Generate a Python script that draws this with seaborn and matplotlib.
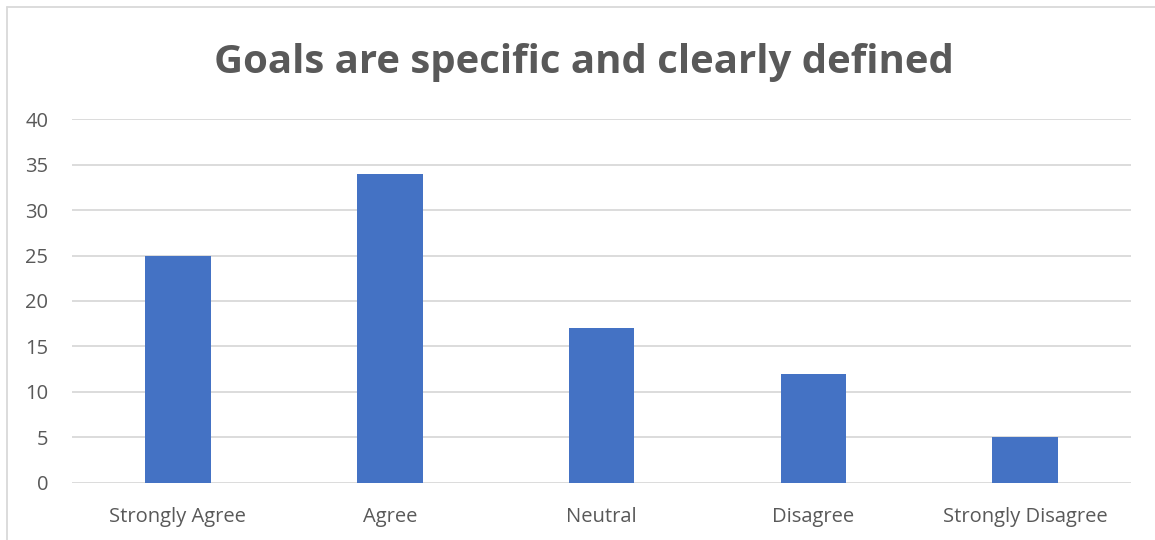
import matplotlib
matplotlib.use("Agg")
import matplotlib.pyplot as plt
from matplotlib.lines import Line2D
import seaborn as sns
import pandas as pd

categories = ["Strongly Agree", "Agree", "Neutral", "Disagree", "Strongly Disagree"]
counts = [25, 34, 17, 12, 5]
y_ticks = [0, 5, 10, 15, 20, 25, 30, 35, 40]
title = "Goals are specific and clearly defined"

sns.set_theme(style="white")
plt.rcParams["font.family"] = ["Open Sans", "DejaVu Sans"]

text_gray = "#595959"
grid_gray = "#D9D9D9"
bar_blue = "#4472C4"

df = pd.DataFrame({"category": categories, "count": counts})

fig = plt.figure(figsize=(11.55, 5.4), dpi=100)
ax = fig.add_axes([0.0623, 0.1056, 0.917, 0.674])

sns.barplot(data=df, x="category", y="count", color=bar_blue, width=0.31,
            saturation=1, linewidth=0, ax=ax, zorder=3)

ax.set_ylim(0, 40)
ax.set_yticks(y_ticks)
ax.set_xlim(-0.5, len(categories) - 0.5)
ax.yaxis.grid(True, color=grid_gray, linewidth=1.3, zorder=0)
ax.set_axisbelow(True)
for side in ["top", "right", "left", "bottom"]:
    ax.spines[side].set_visible(False)
ax.set_xlabel("")
ax.set_ylabel("")
ax.tick_params(axis="both", length=0, labelsize=14.5, labelcolor=text_gray)
ax.tick_params(axis="x", pad=17)
ax.tick_params(axis="y", pad=17)

fig.text(0.506, 0.885, title, ha="center", va="center", fontsize=28.9,
         fontweight="bold", color=text_gray)

# chart frame edges
fig.add_artist(Line2D([7 / 1155, 7 / 1155], [0, 533 / 540], color=grid_gray,
                      linewidth=1.3, transform=fig.transFigure))
fig.add_artist(Line2D([7 / 1155, 1], [533 / 540, 533 / 540], color=grid_gray,
                      linewidth=1.3, transform=fig.transFigure))

fig.savefig("out.png", dpi=100, facecolor="white")
